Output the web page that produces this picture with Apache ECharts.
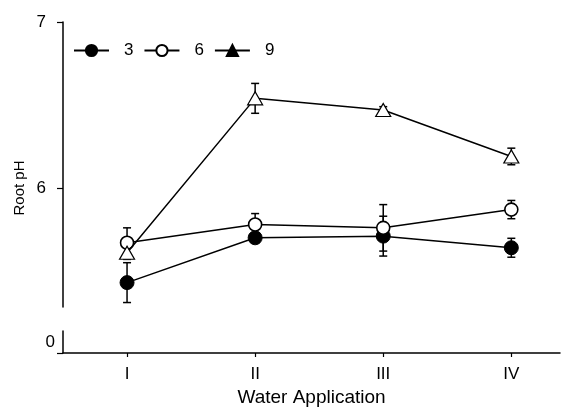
<!DOCTYPE html>
<html>
<head>
<meta charset="utf-8">
<script src="https://cdn.jsdelivr.net/npm/echarts@6/dist/echarts.min.js"></script>
<style>
  html, body { margin: 0; padding: 0; background: #fff; }
  #chart { width: 563px; height: 408px; }
</style>
</head>
<body>
<div id="chart"></div>
<script>
// Water application levels (x) and root pH for three treatment rates
const categories = ['I', 'II', 'III', 'IV'];
const seriesNames = ['3', '6', '9'];
const ph3 = [5.43, 5.70, 5.71, 5.64];
const ph6 = [5.67, 5.78, 5.76, 5.87];
const ph9 = [5.61, 6.54, 6.47, 6.19];
const err3 = [0.12, 0.03, 0.12, 0.057];
const err6 = [0.09, 0.066, 0.14, 0.055];
const err9 = [0.04, 0.09, 0.02, 0.05];
const yTicksUpper = [6, 7];
const yTicksLower = [0];

const FONT = 'Liberation Sans, Arial, sans-serif';
const xPos = categories.map((c, i) => i + 1);

function points(vals) { return vals.map((v, i) => [xPos[i], v]); }
function errPoints(vals, errs) { return vals.map((v, i) => [xPos[i], v, errs[i]]); }

// vertical error bar with short caps at both ends
function renderErr(params, api) {
  const x = api.value(0), y = api.value(1), e = api.value(2);
  const top = api.coord([x, y + e]);
  const bot = api.coord([x, y - e]);
  const w = 4;
  const style = { stroke: '#000', lineWidth: 1.5 };
  return {
    type: 'group',
    children: [
      { type: 'line', shape: { x1: top[0], y1: top[1], x2: bot[0], y2: bot[1] }, style },
      { type: 'line', shape: { x1: top[0] - w, y1: top[1], x2: top[0] + w, y2: top[1] }, style },
      { type: 'line', shape: { x1: bot[0] - w, y1: bot[1], x2: bot[0] + w, y2: bot[1] }, style }
    ]
  };
}

const upperTop = 22, upperBottom = 307;
const pxPerUnit = 166;
const upperMin = 7 - (upperBottom - upperTop) / pxPerUnit;

const axisLineStyle = { color: '#000', width: 1.5 };

const chart = echarts.init(document.getElementById('chart'));
chart.setOption({
  animation: false,
  backgroundColor: '#fff',
  textStyle: { fontFamily: FONT },
  legend: {
    left: 68, top: 37,
    itemWidth: 35, itemHeight: 14, itemGap: 10,
    textStyle: { fontSize: 17, color: '#000', fontFamily: FONT, padding: [0, 0, 0, 10] },
    data: [
      { name: seriesNames[0] },
      { name: seriesNames[1] },
      { name: seriesNames[2], itemStyle: { color: '#000', borderColor: '#000' } }
    ]
  },
  grid: [
    { left: 63, right: 3, top: upperTop, height: upperBottom - upperTop },
    { left: 63, right: 3, top: 331, height: 22 }
  ],
  xAxis: [
    { type: 'value', gridIndex: 0, min: 0.5, max: 4.38, show: false },
    {
      type: 'value', gridIndex: 1, min: 0.5, max: 4.38,
      axisLine: { show: true, lineStyle: axisLineStyle },
      axisTick: { show: true, length: 4, lineStyle: { color: '#000', width: 1.2 }, customValues: xPos },
      axisLabel: {
        customValues: xPos, margin: 13, fontSize: 17, color: '#000', fontFamily: FONT,
        formatter: v => categories[Math.round(v) - 1]
      },
      splitLine: { show: false },
      name: 'Water Application', nameLocation: 'middle', nameGap: 35,
      nameTextStyle: { fontSize: 19, color: '#000', fontFamily: FONT }
    }
  ],
  yAxis: [
    {
      type: 'value', gridIndex: 0, min: upperMin, max: 7,
      axisLine: { show: true, lineStyle: axisLineStyle },
      axisTick: { show: true, length: 6, lineStyle: { color: '#000', width: 1.2 }, customValues: yTicksUpper },
      axisLabel: { customValues: yTicksUpper, margin: 17, fontSize: 17, color: '#000', fontFamily: FONT },
      splitLine: { show: false }
    },
    {
      type: 'value', gridIndex: 1, min: 0, max: 1,
      axisLine: { show: true, lineStyle: axisLineStyle },
      axisTick: { show: true, length: 6, lineStyle: { color: '#000', width: 1.2 }, customValues: yTicksLower },
      axisLabel: {
        customValues: yTicksLower, margin: 8, fontSize: 17, color: '#000', fontFamily: FONT,
        verticalAlign: 'bottom', padding: [0, 0, 2, 0]
      },
      splitLine: { show: false }
    }
  ],
  graphic: [
    {
      type: 'text', x: 20, y: 188, rotation: Math.PI / 2,
      style: { text: 'Root pH', fill: '#000', font: '15px ' + FONT, align: 'center', verticalAlign: 'middle' }
    }
  ],
  series: [
    {
      type: 'custom', xAxisIndex: 0, yAxisIndex: 0, renderItem: renderErr,
      data: errPoints(ph3, err3), z: 1, silent: true
    },
    {
      type: 'custom', xAxisIndex: 0, yAxisIndex: 0, renderItem: renderErr,
      data: errPoints(ph6, err6), z: 1, silent: true
    },
    {
      type: 'custom', xAxisIndex: 0, yAxisIndex: 0, renderItem: renderErr,
      data: errPoints(ph9, err9), z: 1, silent: true
    },
    {
      name: seriesNames[0], type: 'line', xAxisIndex: 0, yAxisIndex: 0,
      data: points(ph3), symbol: 'circle', symbolSize: 14, z: 3,
      lineStyle: { color: '#000', width: 1.5 },
      itemStyle: { color: '#000', borderColor: '#000', borderWidth: 1 }
    },
    {
      name: seriesNames[1], type: 'line', xAxisIndex: 0, yAxisIndex: 0,
      data: points(ph6), symbol: 'circle', symbolSize: 13, z: 4,
      lineStyle: { color: '#000', width: 1.5 },
      itemStyle: { color: '#fff', borderColor: '#000', borderWidth: 1.6 }
    },
    {
      name: seriesNames[2], type: 'line', xAxisIndex: 0, yAxisIndex: 0,
      data: points(ph9), symbol: 'triangle', symbolSize: [15, 13], z: 5,
      lineStyle: { color: '#000', width: 1.5 },
      itemStyle: { color: '#fff', borderColor: '#000', borderWidth: 1.2 }
    }
  ]
});
</script>
</body>
</html>
